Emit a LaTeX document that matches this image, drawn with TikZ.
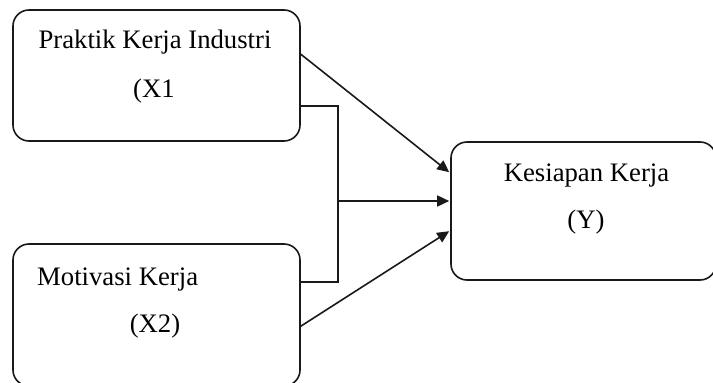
\documentclass[tikz,border=0pt]{standalone}
\usepackage{fontspec}
\setmainfont{Liberation Serif}
\usetikzlibrary{arrows.meta,calc}
\tikzset{
  varbox/.style={draw=black!90, line width=1.6pt, rounded corners=16pt, inner sep=0pt},
  lbl/.style={font=\fontsize{26.7}{30}\selectfont, inner sep=0pt, anchor=base},
  conn/.style={draw=black!90, line width=1.6pt},
  arr/.style={conn, -{Triangle[length=12pt,width=11pt]}}
}
\begin{document}
\begin{tikzpicture}[x=1pt,y=-1pt]
\useasboundingbox (0,0) rectangle (713,383);
\clip (0,0) rectangle (713,383);
% boxes
\node[varbox, minimum width=287pt, minimum height=131pt] (b1) at (156.5,75.5) {};
\node[varbox, minimum width=287pt, minimum height=142pt] (b2) at (156.5,315) {};
\node[varbox, minimum width=265pt, minimum height=138pt] (b3) at (583.5,211) {};
% labels
\node[lbl] (t1) at (155,48) {Praktik Kerja Industri};
\node[lbl] (t1b) at (154,97) {(X1};
\node[lbl, anchor=base west] (t2) at (37,285) {Motivasi Kerja};
\node[lbl] (t2b) at (155,332) {(X2)};
\node[lbl] (t3) at (586.5,181) {Kesiapan Kerja};
\node[lbl] (t3b) at (586,228) {(Y)};
% connector coordinates
\coordinate (e1a) at ($(b1.north east)+(0,45)$);
\coordinate (e1b) at ($(b1.north east)+(0,97)$);
\coordinate (e2a) at ($(b2.north east)+(0,39)$);
\coordinate (e2b) at ($(b2.north east)+(0,83)$);
\coordinate (j1) at ($(e1b)+(37,0)$);
\coordinate (j2) at ($(e2a)+(37,0)$);
\coordinate (in1) at ($(b3.north west)+(-1,31)$);
\coordinate (in2) at ($(b3.west)+(-1,-10)$);
\coordinate (in3) at ($(b3.north west)+(-1,90)$);
% connectors
\draw[arr] (e1a) -- (in1);
\draw[conn] (e1b) -- (j1) -- (j2) -- (e2a);
\draw[arr] (j1 |- in2) -- (in2);
\draw[arr] (e2b) -- (in3);
\end{tikzpicture}
\end{document}
